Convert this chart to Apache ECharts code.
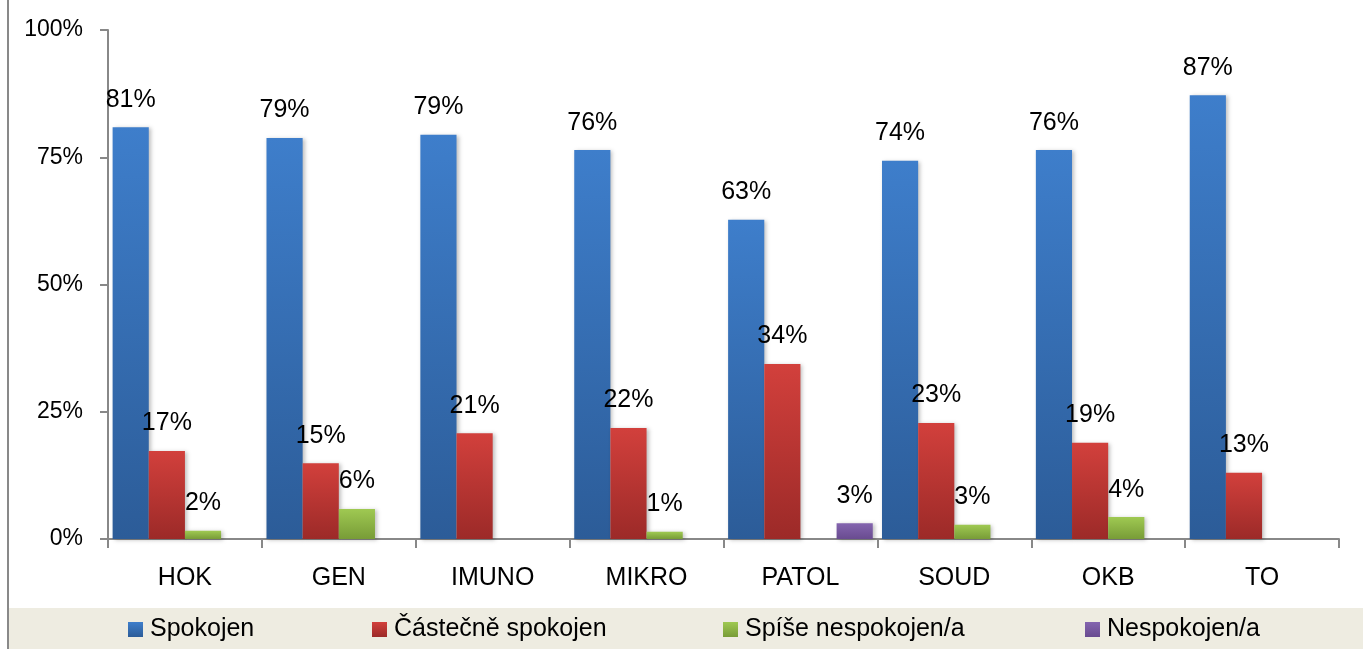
<!DOCTYPE html>
<html>
<head>
<meta charset="utf-8">
<script src="https://cdn.jsdelivr.net/npm/echarts@6/dist/echarts.min.js"></script>
<style>
html,body{margin:0;padding:0;background:#fff;}
#chart{width:1363px;height:649px;}
</style>
</head>
<body>
<div id="chart"></div>
<script>
const categories = ['HOK','GEN','IMUNO','MIKRO','PATOL','SOUD','OKB','TO'];
const spokojen = [80.9, 78.8, 79.4, 76.4, 62.7, 74.3, 76.4, 87.2];
const castecne = [17.3, 14.9, 20.8, 21.8, 34.4, 22.8, 18.9, 13.0];
const spise = [1.6, 5.9, null, 1.4, null, 2.8, 4.3, null];
const nespokojen = [null, null, null, null, 3.1, null, null, null];
const seriesNames = ['Spokojen', 'Částečně spokojen', 'Spíše nespokojen/a', 'Nespokojen/a'];
const yTicks = [0, 25, 50, 75, 100];

const FONT = "'Liberation Sans', Arial, sans-serif";
const grad = (a, b) => new echarts.graphic.LinearGradient(0, 0, 0, 1, [
  {offset: 0, color: a}, {offset: 1, color: b}
]);
const colors = [
  grad('#3E7ECB', '#2C5C98'),
  grad('#D2403C', '#9C2A28'),
  grad('#9FC952', '#789C37'),
  grad('#8465AF', '#694B90')
];

function mkSeries(name, data, color) {
  return {
    name: name,
    type: 'bar',
    data: data,
    barGap: '0%',
    barCategoryGap: '6%',
    itemStyle: {
      color: color,
      shadowColor: 'rgba(0,0,0,0.25)',
      shadowBlur: 4,
      shadowOffsetX: 2,
      shadowOffsetY: 1
    },
    label: {
      show: true,
      position: 'top',
      distance: 15,
      color: '#000',
      fontFamily: FONT,
      fontSize: 25,
      formatter: p => p.value == null ? '' : Math.round(p.value) + '%'
    }
  };
}

const legendLefts = [128, 372, 723, 1085];
const legends = seriesNames.map((n, i) => ({
  data: [n],
  left: legendLefts[i],
  top: 617,
  padding: 0,
  itemWidth: 15,
  itemHeight: 15,
  icon: 'rect',
  textStyle: {fontFamily: FONT, fontSize: 25, color: '#000', padding: [0, 0, 0, 2]}
}));

const chart = echarts.init(document.getElementById('chart'), null, {renderer: 'canvas'});
chart.setOption({
  animation: false,
  backgroundColor: '#fff',
  graphic: [
    {type: 'rect', shape: {x: 9, y: 608, width: 1354, height: 41}, style: {fill: '#EEECE1'}, z: -10},
    {type: 'line', shape: {x1: 8, y1: 0, x2: 8, y2: 649}, style: {stroke: '#898989', lineWidth: 2}, z: 10}
  ],
  grid: {left: 108, right: 24, top: 30, bottom: 110, containLabel: false},
  legend: legends,
  xAxis: {
    type: 'category',
    data: categories,
    axisLine: {lineStyle: {color: '#888', width: 2}},
    axisTick: {show: true, length: 9, lineStyle: {color: '#888', width: 2}},
    axisLabel: {fontFamily: FONT, fontSize: 25, color: '#000', margin: 27}
  },
  yAxis: {
    type: 'value',
    min: 0,
    max: 100,
    interval: 25,
    splitLine: {show: false},
    axisLine: {show: true, lineStyle: {color: '#888', width: 2}},
    axisTick: {show: true, length: 8, lineStyle: {color: '#888', width: 2}},
    axisLabel: {
      fontFamily: FONT, fontSize: 23, color: '#000', margin: 25,
      formatter: v => yTicks.includes(v) ? v + '%' : ''
    }
  },
  series: [
    mkSeries(seriesNames[0], spokojen, colors[0]),
    mkSeries(seriesNames[1], castecne, colors[1]),
    mkSeries(seriesNames[2], spise, colors[2]),
    mkSeries(seriesNames[3], nespokojen, colors[3])
  ]
});
</script>
</body>
</html>
